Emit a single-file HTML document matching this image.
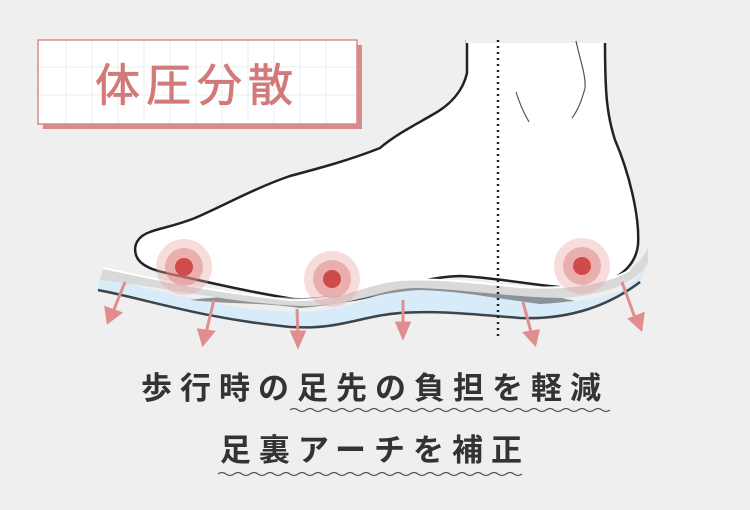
<!DOCTYPE html>
<html><head><meta charset="utf-8"><style>
html,body{margin:0;padding:0;background:#efefef;}
svg{display:block;}
text{font-family:"Liberation Sans","Noto Sans CJK JP",sans-serif;}
</style></head><body>
<svg width="750" height="510" viewBox="0 0 750 510" xmlns="http://www.w3.org/2000/svg">
<rect width="750" height="510" fill="#efefef"/>
<!-- title box -->
<rect x="43" y="45" width="319" height="84" fill="#d98a8a"/>
<rect x="38" y="40" width="319" height="84" fill="#fff" stroke="#d98a8a" stroke-width="1.5"/>
<g stroke="#ececec" stroke-width="1">
<line x1="39" y1="67" x2="356" y2="67"/><line x1="39" y1="95" x2="356" y2="95"/>
<line x1="66" y1="41" x2="66" y2="123"/><line x1="92" y1="41" x2="92" y2="123"/><line x1="118" y1="41" x2="118" y2="123"/><line x1="144" y1="41" x2="144" y2="123"/><line x1="170" y1="41" x2="170" y2="123"/><line x1="196" y1="41" x2="196" y2="123"/><line x1="222" y1="41" x2="222" y2="123"/><line x1="248" y1="41" x2="248" y2="123"/><line x1="274" y1="41" x2="274" y2="123"/><line x1="300" y1="41" x2="300" y2="123"/><line x1="326" y1="41" x2="326" y2="123"/>
</g>
<text x="197" y="101" font-size="45" fill="#d27a7a" stroke="#d27a7a" stroke-width="0.8" text-anchor="middle" letter-spacing="6">体圧分散</text>
<!-- foot -->
<path d="M467,41 L467,73 C462,95 445,108 432,115 C415,125 395,135 380,148 C350,160 320,168 290,176 C255,188 225,205 195,218 C175,226 160,228 150,232 C138,236 133,245 136,255 C140,268 160,272 180,276 C220,285 260,294 300,300 C340,304 360,300 385,292 C410,284 430,277 460,276 C500,278 530,285 570,288 C610,288 635,270 638,245 C640,215 628,170 615,140 C607,115 605,95 605,41 Z" fill="#fff" stroke="#222" stroke-width="2.5"/>
<rect x="466" y="38" width="141" height="5" fill="#efefef"/>
<path d="M516,92 C520,105 525,115 529,122" stroke="#555" stroke-width="1.2" fill="none"/>
<path d="M576,41 C580,60 586,75 585,88 C582,100 578,110 572,118" stroke="#555" stroke-width="1.2" fill="none"/>
<!-- sole -->
<path d="M98,290 C150,300 200,318 290,327 C340,330 360,316 400,313 C440,310 480,315 520,318 C570,320 610,305 640,282 L648,262 C630,295 600,300 560,302 C510,302 470,292 420,290 C380,288 360,310 300,312 C230,312 170,292 100,278 Z" fill="#d7ebf8"/>
<path d="M98,290 C150,300 200,318 290,327 C340,330 360,316 400,313 C440,310 480,315 520,318 C570,320 610,305 640,282" stroke="#3d4449" stroke-width="2.5" fill="none"/>
<path d="M190,300 C240,305 260,302 300,308 C350,304 380,292 420,290 C460,291 500,299 540,304 C560,303 570,301 575,301 C530,290 480,284 430,281 C380,282 350,297 300,298 C260,296 220,296 190,300 Z" fill="#8c9396"/>
<path d="M103,268 C150,278 200,290 290,300 C340,302 360,284 400,280 C440,278 480,283 520,287 C570,290 610,282 630,270 C642,260 648,250 648,246 L648,262 C640,280 610,295 560,298 C510,297 470,290 420,288 C380,287 360,306 300,306 C230,303 170,288 100,280 Z" fill="#d9d9d9"/>
<path d="M103,268 C150,278 200,290 290,300 C340,302 360,284 400,280 C440,278 480,283 520,287 C570,290 610,282 630,270" stroke="#fff" stroke-width="2" fill="none"/>
<!-- pressure circles -->
<g><circle cx="184" cy="267" r="28" fill="#e99a9a" opacity="0.35"/><circle cx="184" cy="267" r="19" fill="#e08080" opacity="0.5"/><circle cx="184" cy="267" r="9" fill="#cf4b4b"/></g>
<g><circle cx="332" cy="279" r="28" fill="#e99a9a" opacity="0.35"/><circle cx="332" cy="279" r="19" fill="#e08080" opacity="0.5"/><circle cx="332" cy="279" r="9" fill="#cf4b4b"/></g>
<g><circle cx="582" cy="266" r="28" fill="#e99a9a" opacity="0.35"/><circle cx="582" cy="266" r="19" fill="#e08080" opacity="0.5"/><circle cx="582" cy="266" r="9" fill="#cf4b4b"/></g>
<!-- dotted line -->
<line x1="498" y1="40" x2="498" y2="340" stroke="#222" stroke-width="2.5" stroke-dasharray="2,4"/>
<!-- arrows -->
<g stroke="#e08d8d" stroke-width="3" fill="#e08d8d">
<line x1="125" y1="282" x2="113" y2="312"/><polygon points="108,322 106,308 120,313"/>
<line x1="214" y1="300" x2="206" y2="333"/><polygon points="203,344 199,330 213,332"/>
<line x1="297" y1="309" x2="298" y2="334"/><polygon points="298,346 292,332 304,332"/>
<line x1="403" y1="300" x2="403" y2="325"/><polygon points="403,337 397,323 409,323"/>
<line x1="523" y1="302" x2="531" y2="332"/><polygon points="535,344 525,333 538,331"/>
<line x1="622" y1="282" x2="635" y2="318"/><polygon points="641,329 630,319 643,314"/>
</g>
<!-- text -->
<text x="375" y="399" font-size="31" font-weight="bold" fill="#333" text-anchor="middle" letter-spacing="8">歩行時の足先の負担を軽減</text>
<path d="M290,410 q4,-3 8,0 t8,0 t8,0 t8,0 t8,0 t8,0 t8,0 t8,0 t8,0 t8,0 t8,0 t8,0 t8,0 t8,0 t8,0 t8,0 t8,0 t8,0 t8,0 t8,0 t8,0 t8,0 t8,0 t8,0 t8,0 t8,0 t8,0 t8,0 t8,0 t8,0 t8,0 t8,0 t8,0 t8,0 t8,0 t8,0 t8,0 t8,0 t8,0 t8,0" stroke="#555" stroke-width="1.2" fill="none"/>
<text x="375" y="461" font-size="31" font-weight="bold" fill="#333" text-anchor="middle" letter-spacing="8">足裏アーチを補正</text>
<path d="M218,474 q4,-3 8,0 t8,0 t8,0 t8,0 t8,0 t8,0 t8,0 t8,0 t8,0 t8,0 t8,0 t8,0 t8,0 t8,0 t8,0 t8,0 t8,0 t8,0 t8,0 t8,0 t8,0 t8,0 t8,0 t8,0 t8,0 t8,0 t8,0 t8,0 t8,0 t8,0 t8,0 t8,0 t8,0 t8,0 t8,0 t8,0 t8,0 t8,0" stroke="#555" stroke-width="1.2" fill="none"/>
</svg>
</body></html>
